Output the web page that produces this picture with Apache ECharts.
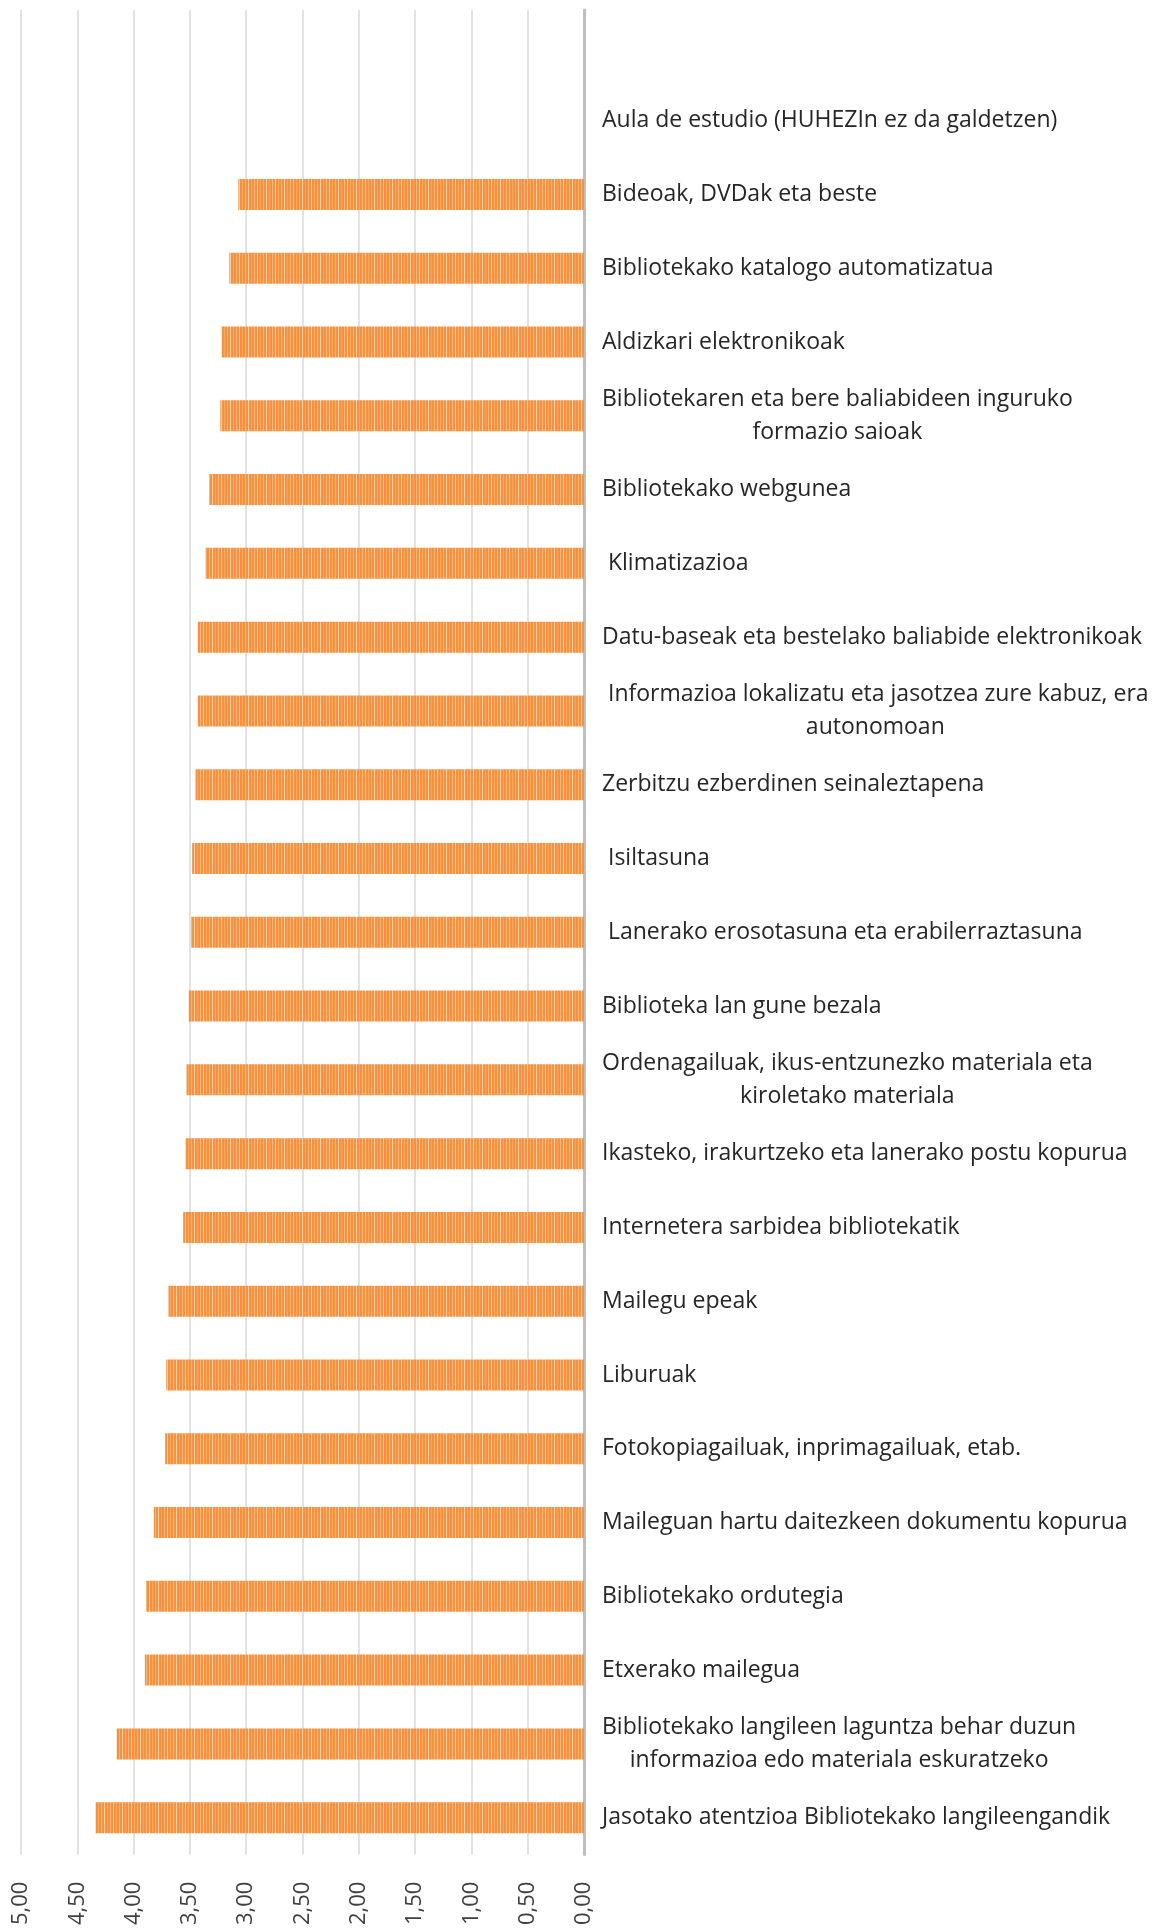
<!DOCTYPE html>
<html>
<head>
<meta charset="utf-8">
<script src="https://cdn.jsdelivr.net/npm/echarts@6/dist/echarts.min.js"></script>
<style>
  html, body { margin: 0; padding: 0; background: #fff; }
  #main { width: 1152px; height: 1928px; }
</style>
</head>
<body>
<div id="main"></div>
<script>
// categories, top to bottom (first slot is empty in the original)
var categories = [
    '',
    'Aula de estudio (HUHEZIn ez da galdetzen)',
    'Bideoak, DVDak eta beste',
    'Bibliotekako katalogo automatizatua',
    'Aldizkari elektronikoak',
    'Bibliotekaren eta bere baliabideen inguruko\nformazio saioak',
    'Bibliotekako webgunea',
    ' Klimatizazioa',
    'Datu-baseak eta bestelako baliabide elektronikoak',
    ' Informazioa lokalizatu eta jasotzea zure kabuz, era\nautonomoan',
    'Zerbitzu ezberdinen seinaleztapena',
    ' Isiltasuna',
    ' Lanerako erosotasuna eta erabilerraztasuna',
    'Biblioteka lan gune bezala',
    'Ordenagailuak, ikus-entzunezko materiala eta\nkiroletako materiala',
    'Ikasteko, irakurtzeko eta lanerako postu kopurua',
    'Internetera sarbidea bibliotekatik',
    'Mailegu epeak',
    'Liburuak',
    'Fotokopiagailuak, inprimagailuak, etab.',
    'Maileguan hartu daitezkeen dokumentu kopurua',
    'Bibliotekako ordutegia',
    'Etxerako mailegua',
    'Bibliotekako langileen laguntza behar duzun\ninformazioa edo materiala eskuratzeko',
    'Jasotako atentzioa Bibliotekako langileengandik'
];

var values = [
    null, null,
    3.07, 3.15, 3.22, 3.23, 3.33, 3.36,
    3.43, 3.43, 3.45, 3.48, 3.49, 3.51,
    3.53, 3.54, 3.56, 3.69, 3.71, 3.72,
    3.82, 3.89, 3.90, 4.15, 4.34
];

var fontName = 'Open Sans';

// striped orange fill like the excel pattern
function makePattern() {
    var cols = ['#F79140', '#F79140', '#FAB57A', '#F6933F', '#F79140', '#FCCFA6', '#F7923D', '#F79140', '#F9A862'];
    var c = document.createElement('canvas');
    c.width = cols.length;
    c.height = 4;
    var ctx = c.getContext('2d');
    for (var i = 0; i < cols.length; i++) {
        ctx.fillStyle = cols[i];
        ctx.fillRect(i, 0, 1, 4);
    }
    return c;
}

var myChart = echarts.init(document.getElementById('main'));

var option = {
    backgroundColor: '#fff',
    animation: false,
    grid: {
        left: 21,
        right: 1152 - 584,
        top: 10,
        bottom: 68,
        containLabel: false
    },
    xAxis: {
        type: 'value',
        inverse: true,
        min: 0,
        max: 5,
        interval: 0.5,
        axisLine: { show: false },
        axisTick: { show: false },
        splitLine: { lineStyle: { color: '#D9D9D9', width: 1.5 } },
        axisLabel: {
            rotate: 90,
            margin: 27,
            color: '#404040',
            fontFamily: fontName,
            fontSize: 22,
            formatter: function (v) {
                return v.toFixed(2).replace('.', ',');
            }
        }
    },
    yAxis: {
        type: 'category',
        position: 'right',
        inverse: true,
        data: categories,
        axisLine: { show: true, lineStyle: { color: '#BFBFBF', width: 3 } },
        axisTick: { show: false },
        splitLine: { show: false },
        axisLabel: {
            interval: 0,
            margin: 18,
            align: 'left',
            color: '#262626',
            fontFamily: fontName,
            fontSize: 23,
            lineHeight: 33,
            formatter: function (v) {
                return v.split('\n').map(function (s) {
                    return '{c|' + s + '}';
                }).join('\n');
            },
            rich: {
                c: {
                    align: 'center',
                    color: '#262626',
                    fontFamily: fontName,
                    fontSize: 23,
                    lineHeight: 33
                }
            }
        }
    },
    series: [
        {
            type: 'bar',
            data: values,
            barWidth: 31,
            itemStyle: {
                color: { image: makePattern(), repeat: 'repeat' }
            }
        }
    ]
};

myChart.setOption(option);
</script>
</body>
</html>
